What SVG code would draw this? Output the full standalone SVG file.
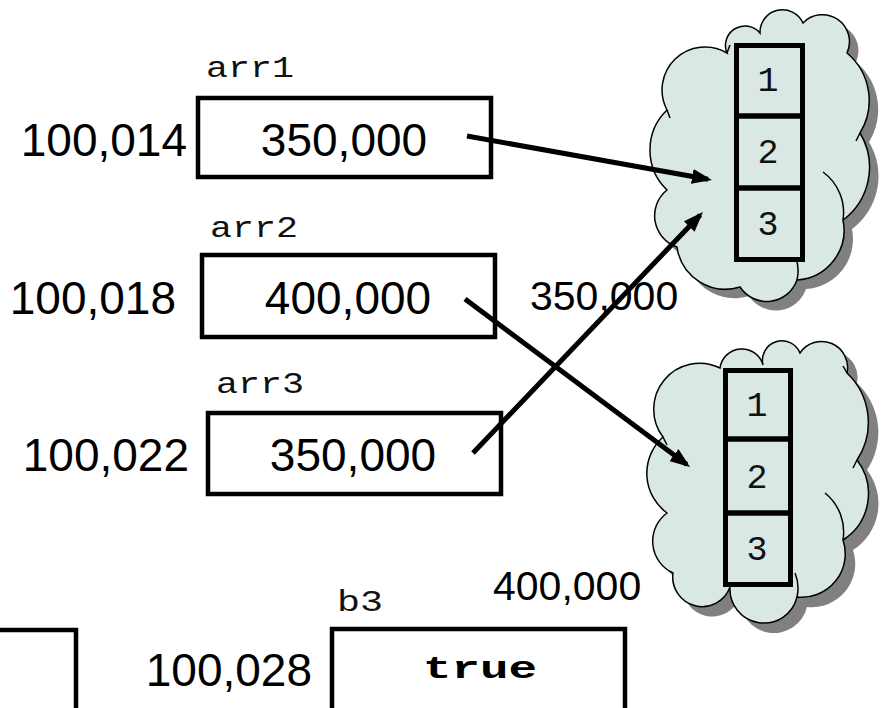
<svg xmlns="http://www.w3.org/2000/svg" width="882" height="708" viewBox="0 0 882 708">
<style>
.box{fill:none;stroke:#000;stroke-width:4.5}
.cell{fill:none;stroke:#000;stroke-width:5}
.cloud{fill:#d9e8e3;stroke:#000;stroke-width:1.5}
.shadow{fill:#808080;stroke:none}
.tail{fill:none;stroke:#000;stroke-width:1.5}
.num{font-family:"Liberation Sans",Arial,sans-serif;font-size:46px;fill:#000}
.lbl{font-family:"Liberation Sans",Arial,sans-serif;font-size:41px;fill:#000}
.mono{font-family:"Liberation Mono","Courier New",monospace;font-size:30px;fill:#111}
.digit{font-family:"Liberation Mono","Courier New",monospace;font-size:35px;fill:#111;text-anchor:middle}
.bold{font-family:"Liberation Mono","Courier New",monospace;font-size:32px;font-weight:bold;fill:#000}
.conn{stroke:#000;stroke-width:5;fill:none;marker-end:url(#head)}
</style>
<defs>
<marker id="head" markerUnits="userSpaceOnUse" markerWidth="20" markerHeight="15" refX="16" refY="7.5" orient="auto">
<path d="M0,0 L20,7.5 L0,15 z" fill="#000"/>
</marker>
<path id="c1" d="M727,53 A19.5,19.5 0 0 1 760,33 A22.5,22.5 0 0 1 803,23 A27,27 0 0 1 847,53 A62,62 0 0 1 860,133 A66,66 0 0 1 843,220 A50,50 0 0 1 797,280 A32,32 0 0 1 740,287 A49,49 0 0 1 677,247 A33,33 0 0 1 667,190 A55.5,55.5 0 0 1 667,110 A43,43 0 0 1 727,53 Z"/>
<path id="c2" d="M720,368 A22,22 0 0 1 763,365 A19.5,19.5 0 0 1 800,353 A26,26 0 0 1 847,373 A68,68 0 0 1 857,460 A55,55 0 0 1 843,540 A43.5,43.5 0 0 1 797,597 A34,34 0 0 1 730,587 A29.5,29.5 0 0 1 673,573 A35,35 0 0 1 667,513 A49,49 0 0 1 663,437 A46,46 0 0 1 720,368 Z"/>
</defs>
<rect width="882" height="708" fill="#fff"/>

<g id="cloud1">
<use href="#c1" class="shadow" transform="translate(9,9)"/>
<use href="#c1" class="cloud"/>
<path class="tail" d="M843,220 A50,50 0 0 0 823,172 M797,280 A40,40 0 0 0 796,258 M667,110 L670,118 M860,133 L856,141 M727,53 L730,45"/>
<rect class="cell" x="736.5" y="45.5" width="66" height="70.5"/>
<rect class="cell" x="736.5" y="116" width="66" height="72"/>
<rect class="cell" x="736.5" y="188" width="66" height="71.5"/>
<text class="digit" x="768" y="91">1</text>
<text class="digit" x="768" y="163">2</text>
<text class="digit" x="768" y="235">3</text>
</g>

<g id="cloud2">
<use href="#c2" class="shadow" transform="translate(10,10)"/>
<use href="#c2" class="cloud"/>
<path class="tail" d="M843,540 A50,50 0 0 0 825,493 M797,597 A40,40 0 0 0 795,573 M663,437 L667,445 M857,460 L853,468 M847,373 L843,366"/>
<rect class="cell" x="725.5" y="370.5" width="65" height="68.5"/>
<rect class="cell" x="725.5" y="439" width="65" height="74"/>
<rect class="cell" x="725.5" y="513" width="65" height="71.5"/>
<text class="digit" x="757" y="416">1</text>
<text class="digit" x="757" y="488">2</text>
<text class="digit" x="757" y="560">3</text>
</g>

<g id="arr1">
<text class="mono" x="206" y="77" textLength="88" lengthAdjust="spacingAndGlyphs">arr1</text>
<rect class="box" x="198" y="98" width="293" height="79"/>
<text class="num" x="187" y="156" text-anchor="end">100,014</text>
<text class="num" x="344" y="156" text-anchor="middle">350,000</text>
</g>

<g id="arr2">
<text class="mono" x="210" y="237" textLength="88" lengthAdjust="spacingAndGlyphs">arr2</text>
<rect class="box" x="202" y="255" width="293" height="82"/>
<text class="num" x="176" y="314" text-anchor="end">100,018</text>
<text class="num" x="348" y="314" text-anchor="middle">400,000</text>
</g>

<g id="arr3">
<text class="mono" x="216" y="393" textLength="88" lengthAdjust="spacingAndGlyphs">arr3</text>
<rect class="box" x="208" y="413" width="293" height="81"/>
<text class="num" x="189" y="471" text-anchor="end">100,022</text>
<text class="num" x="353" y="471" text-anchor="middle">350,000</text>
</g>

<g id="label350">
<text class="lbl" x="530" y="310">350,000</text>
</g>
<g id="label400">
<text class="lbl" x="493" y="600">400,000</text>
</g>

<g id="prevbox">
<rect class="box" x="-220" y="630" width="296" height="120"/>
</g>

<g id="b3">
<text class="mono" x="337" y="611" textLength="46" lengthAdjust="spacingAndGlyphs">b3</text>
<rect class="box" x="332" y="629" width="293" height="120"/>
<text class="num" x="312" y="686" text-anchor="end">100,028</text>
<text class="bold" x="423" y="678" textLength="114" lengthAdjust="spacingAndGlyphs">true</text>
</g>

<g id="connectors">
<line class="conn" x1="467" y1="136" x2="708" y2="179.3"/>
<line class="conn" x1="465" y1="299" x2="686.8" y2="464.6"/>
<line class="conn" x1="473" y1="453" x2="700.2" y2="214.9"/>
</g>
</svg>
